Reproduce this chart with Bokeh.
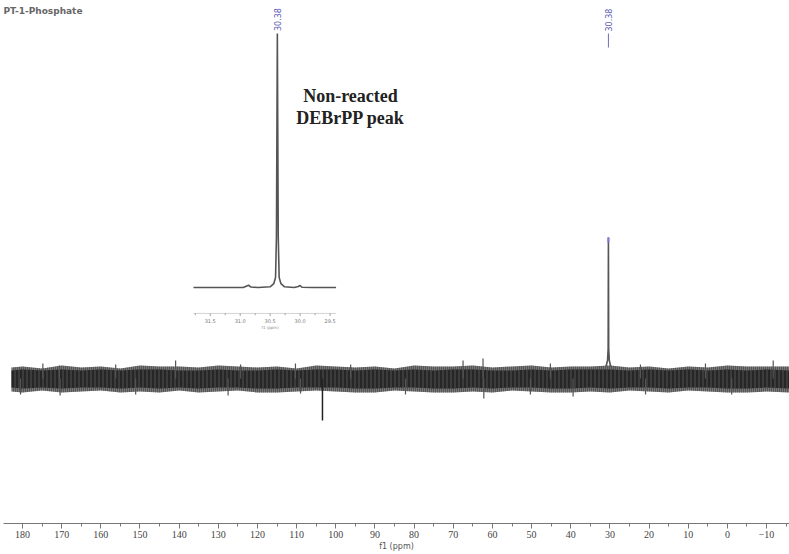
import math
from bokeh.plotting import figure
from bokeh.models import Range1d, SingleIntervalTicker, Label
from bokeh.embed import file_html
from bokeh.resources import INLINE
from bokeh.core.properties import value

# ---------------- data ----------------
title_text = "PT-1-Phosphate"
peak_label = "30.38"
annot_lines = ["Non-reacted", "DEBrPP peak"]
x_axis_title = "f1 (ppm)"

# noise band envelope of the 31P spectrum (ppm, intensity a.u.)
noise_ppm = [182.8, 180, 175, 170, 165, 160, 155, 150, 145, 140, 135, 130, 125, 120,
             115, 110, 105, 100, 95, 90, 85, 80, 75, 70, 65, 60, 55, 50, 45, 40,
             35, 30, 25, 20, 15, 10, 5, 0, -5, -10, -16]
noise_upper = [11, 12, 10, 13, 11, 12, 10, 13, 12, 12, 11, 13, 12, 11,
               12, 10, 13, 12, 11, 12, 10, 13, 12, 12, 13, 11, 12, 13, 11, 12,
               12, 13, 11, 12, 10, 12, 11, 13, 12, 12, 12]
noise_lower = [-13, -14, -12, -14, -13, -12, -14, -13, -14, -12, -14, -13, -12, -14,
               -14, -13, -12, -13, -14, -14, -12, -13, -14, -14, -13, -14, -12, -13, -14, -14,
               -13, -14, -12, -13, -14, -12, -13, -14, -14, -13, -14]
core_upper = [8, 9, 8, 9, 8, 9, 8, 9, 9, 8, 8, 9, 8, 8,
              9, 8, 9, 9, 8, 9, 8, 9, 8, 9, 9, 8, 8, 9, 8, 9,
              9, 9, 8, 9, 8, 9, 8, 9, 8, 9, 8]
core_lower = [-9, -10, -9, -10, -9, -9, -10, -9, -10, -9, -10, -9, -9, -10,
              -10, -9, -9, -9, -10, -10, -9, -9, -10, -10, -9, -10, -9, -9, -10, -10,
              -9, -10, -9, -9, -10, -9, -9, -10, -10, -9, -10]
# individual noise spikes poking out of the band
spike_ppm = [174.8, 170.6, 156.2, 140.9, 124.3, 110.3, 96.2, 67.5, 62.4, 45.2, 22.2, 5.6, -11.7,
             180.5, 170.4, 151.1, 127.5, 109.0, 82.2, 62.2, 50.3, 39.4, 20.9, -1.1]
spike_int = [15, 13, 14, 18, 14, 15, 14, 18, 20, 15, 14, 15, 18,
             -16, -17, -16, -17, -15, -16, -20, -16, -18, -16, -16]

# main peak and the negative artefact
main_peak_ppm = [31.0, 30.6, 30.45, 30.38, 30.31, 30.15, 29.8]
main_peak_int = [12, 18, 30, 141, 30, 18, 12]
neg_spike_ppm = [103.4]
neg_spike_int = [-42]

main_tick_interval = 10

# inset: zoom of the peak (ppm, intensity relative to peak = 100)
inset_ppm = [31.78, 31.3, 30.95, 30.90, 30.86, 30.82, 30.7, 30.50, 30.44, 30.41,
             30.395, 30.38, 30.365, 30.35, 30.32, 30.26, 30.1, 30.03, 30.0, 29.97,
             29.8, 29.40]
inset_int = [0, 0, 0, 0.5, 0.9, 0.2, 0, 0.3, 1.5, 4,
             20, 100, 20, 4, 1.5, 0.3, 0, 0.4, 0.8, 0.1,
             0, 0]
inset_ticks = [31.5, 31.0, 30.5, 30.0, 29.5]
inset_minor = [31.75, 31.25, 30.75, 30.25, 29.75]
inset_tick_labels = ["31.5", "31.0", "30.5", "30.0", "29.5"]

# ---------------- figure ----------------
p = figure(width=789, height=554, output_backend="svg", toolbar_location=None,
           x_range=Range1d(184.85, -15.86), y_range=Range1d(-145, 378),
           y_axis_location=None, min_border_left=3, min_border_right=0,
           min_border_top=0, min_border_bottom=31)
p.outline_line_color = None
p.xgrid.visible = False
p.ygrid.visible = False
p.background_fill_color = "white"
p.border_fill_color = "white"

p.extra_x_ranges = {"inset": Range1d(34.95, 21.833)}
p.extra_y_ranges = {"inset": Range1d(-92.9, 113.0)}

ax = p.xaxis[0]
ax.ticker = SingleIntervalTicker(interval=main_tick_interval, num_minor_ticks=2)
ax.axis_line_color = "#777777"
ax.axis_line_width = 1
ax.major_tick_line_color = "#777777"
ax.minor_tick_line_color = "#777777"
ax.major_tick_in = 0
ax.major_tick_out = 5
ax.minor_tick_in = 0
ax.minor_tick_out = 3
ax.major_label_standoff = 2
ax.major_label_text_font = "Liberation Serif"
ax.major_label_text_font_size = "10px"
ax.major_label_text_color = "#444444"
ax.axis_label = x_axis_title
ax.axis_label_standoff = 1
ax.axis_label_text_font = "DejaVu Sans"
ax.axis_label_text_font_size = "8px"
ax.axis_label_text_font_style = "normal"
ax.axis_label_text_color = "#555555"

# noise band
p.varea(x=noise_ppm, y1=noise_lower, y2=noise_upper, fill_color="#777777",
        hatch_pattern="|", hatch_color="#333333", hatch_scale=2, hatch_weight=1)
p.varea(x=noise_ppm, y1=core_lower, y2=core_upper, fill_color="#262626",
        hatch_pattern="|", hatch_color="#5c5c5c", hatch_scale=4, hatch_weight=0.8)
p.segment(x0=spike_ppm, y0=[0] * len(spike_ppm), x1=spike_ppm, y1=spike_int,
          line_color="#555555", line_width=1.2)

# negative artefact and the main peak
p.segment(x0=neg_spike_ppm, y0=[0], x1=neg_spike_ppm, y1=neg_spike_int,
          line_color="#222222", line_width=1.5)
p.line(main_peak_ppm, main_peak_int, line_color="#555555", line_width=1.6)
top = max(main_peak_int)
top_x = main_peak_ppm[main_peak_int.index(top)]
p.segment(x0=[top_x], y0=[top - 5], x1=[top_x], y1=[top], line_color="#7b7bd0", line_width=2)

# main peak label
p.text(x=[top_x], y=[347], text=[peak_label], angle=math.pi / 2,
       text_align="left", text_baseline="middle", text_color="#5a5ab0",
       text_font=value("DejaVu Sans"), text_font_size="8px")
p.segment(x0=[top_x], y0=[345], x1=[top_x], y1=[331], line_color="#6a6ac0", line_width=1)

# ---------------- inset ----------------
p.line(inset_ppm, inset_int, x_range_name="inset", y_range_name="inset",
       line_color="#555555", line_width=1.6)
ip_top = max(inset_int)
ip_x = inset_ppm[inset_int.index(ip_top)]
p.text(x=[ip_x], y=[ip_top + 1], text=[peak_label], angle=math.pi / 2,
       x_range_name="inset", y_range_name="inset",
       text_align="left", text_baseline="middle", text_color="#5a5ab0",
       text_font=value("DejaVu Sans"), text_font_size="8px")
p.segment(x0=[inset_ppm[0]], y0=[-10.2], x1=[inset_ppm[-1]], y1=[-10.2],
          x_range_name="inset", y_range_name="inset", line_color="#c8c8c8", line_width=0.8)
p.segment(x0=inset_ticks, y0=[-10.2] * 5, x1=inset_ticks, y1=[-11.2] * 5,
          x_range_name="inset", y_range_name="inset", line_color="#888888", line_width=0.8)
p.segment(x0=inset_minor, y0=[-10.2] * 5, x1=inset_minor, y1=[-10.9] * 5,
          x_range_name="inset", y_range_name="inset", line_color="#888888", line_width=0.8)
p.text(x=inset_ticks, y=[-12.4] * 5, text=inset_tick_labels,
       x_range_name="inset", y_range_name="inset",
       text_align="center", text_baseline="top", text_color="#777777",
       text_font=value("DejaVu Sans"), text_font_size="5px")
p.text(x=[30.5], y=[-14.9], text=[x_axis_title],
       x_range_name="inset", y_range_name="inset",
       text_align="center", text_baseline="top", text_color="#888888",
       text_font=value("DejaVu Sans"), text_font_size="4px")

# ---------------- texts ----------------
p.add_layout(Label(x=184.85, y=368, text=title_text, text_align="left", text_baseline="middle",
                   text_font="DejaVu Sans", text_font_size="9px", text_font_style="bold",
                   text_color="#666666"))
p.add_layout(Label(x=96.24, y=283, text=annot_lines[0], text_align="center",
                   text_baseline="middle", text_font="Liberation Serif",
                   text_font_size="18px", text_font_style="bold", text_color="#222222"))
p.add_layout(Label(x=96.24, y=261, text=annot_lines[1], text_align="center",
                   text_baseline="middle", text_font="Liberation Serif",
                   text_font_size="18px", text_font_style="bold", text_color="#222222"))

open("out.html", "w").write(file_html(p, INLINE))
